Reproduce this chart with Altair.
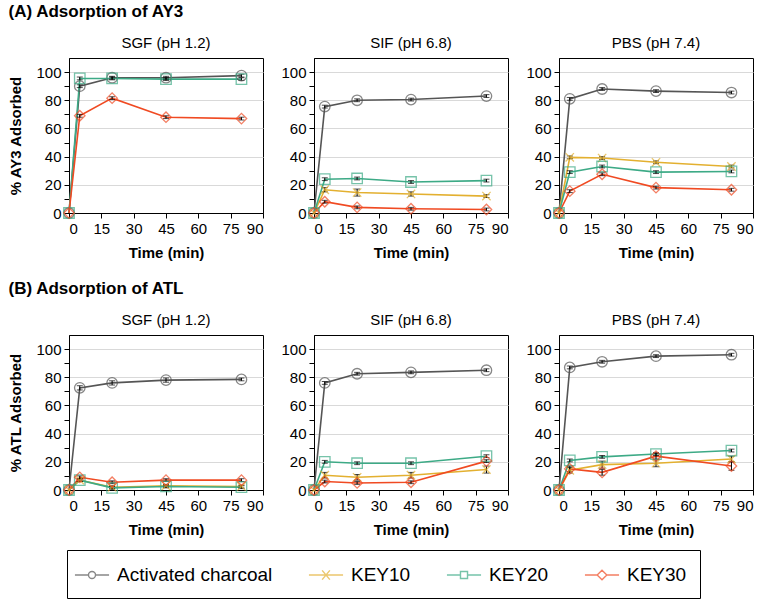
import altair as alt
import pandas as pd

times = [0, 5, 20, 45, 80]
series = ["Activated charcoal", "KEY10", "KEY20", "KEY30"]
colors = ["#555555", "#E3B030", "#3DAA86", "#F04A22"]
media = ["SGF (pH 1.2)", "SIF (pH 6.8)", "PBS (pH 7.4)"]

# (A) AY3 adsorption (%)
ay3_sgf_charcoal = [0, 90, 96, 96, 97.5]
ay3_sgf_key10 = [0, 95, 95.5, 95, 95]
ay3_sgf_key20 = [0, 95.5, 95.5, 95, 95]
ay3_sgf_key30 = [0, 69, 81.5, 68, 67]

ay3_sif_charcoal = [0, 75.5, 80, 80.5, 83]
ay3_sif_key10 = [0, 16.5, 14.5, 13.5, 12]
ay3_sif_key20 = [0, 24, 24.5, 22, 23]
ay3_sif_key30 = [0, 8, 4, 3, 2.5]

ay3_pbs_charcoal = [0, 81, 88, 86.5, 85.5]
ay3_pbs_key10 = [0, 39.5, 39, 36, 33]
ay3_pbs_key20 = [0, 29, 33, 29, 29.5]
ay3_pbs_key30 = [0, 15.5, 27.5, 18, 16.5]

# (B) ATL adsorption (%)
atl_sgf_charcoal = [0, 72.5, 76, 78, 78.5]
atl_sgf_key10 = [0, 7, 2, 3, 2.5]
atl_sgf_key20 = [0, 7, 1.5, 2.5, 2]
atl_sgf_key30 = [0, 9, 5.5, 7, 7]

atl_sif_charcoal = [0, 76, 82.5, 83.5, 85]
atl_sif_key10 = [0, 10.5, 9, 10.5, 14.5]
atl_sif_key20 = [0, 20, 19, 19, 24]
atl_sif_key30 = [0, 6, 5, 5.5, 20.5]

atl_pbs_charcoal = [0, 87, 91, 95, 96]
atl_pbs_key10 = [0, 14, 18, 19, 22]
atl_pbs_key20 = [0, 21, 23.5, 25.5, 28]
atl_pbs_key30 = [0, 15, 12.5, 24, 17]

# error bars (± %)
err_small = [0, 1, 1, 1, 1]
ay3_sif_key10_err = [0, 1.5, 2.5, 1.5, 1]
atl_sgf_charcoal_err = [0, 1.5, 1.5, 1.5, 1]
atl_sif_key10_err = [0, 2, 2, 2, 2.5]
atl_pbs_key10_err = [0, 2, 2.5, 2.5, 2]
atl_pbs_key30_err = [0, 2, 2, 2, 3]

panels = {
    ("AY3", media[0]): [ay3_sgf_charcoal, ay3_sgf_key10, ay3_sgf_key20, ay3_sgf_key30],
    ("AY3", media[1]): [ay3_sif_charcoal, ay3_sif_key10, ay3_sif_key20, ay3_sif_key30],
    ("AY3", media[2]): [ay3_pbs_charcoal, ay3_pbs_key10, ay3_pbs_key20, ay3_pbs_key30],
    ("ATL", media[0]): [atl_sgf_charcoal, atl_sgf_key10, atl_sgf_key20, atl_sgf_key30],
    ("ATL", media[1]): [atl_sif_charcoal, atl_sif_key10, atl_sif_key20, atl_sif_key30],
    ("ATL", media[2]): [atl_pbs_charcoal, atl_pbs_key10, atl_pbs_key20, atl_pbs_key30],
}
errors = {
    ("AY3", media[1], "KEY10"): ay3_sif_key10_err,
    ("ATL", media[0], "Activated charcoal"): atl_sgf_charcoal_err,
    ("ATL", media[1], "KEY10"): atl_sif_key10_err,
    ("ATL", media[2], "KEY10"): atl_pbs_key10_err,
    ("ATL", media[2], "KEY30"): atl_pbs_key30_err,
}

rows = []
for (analyte, medium), vals in panels.items():
    for s, v in zip(series, vals):
        if analyte == "AY3" and medium == media[0] and s == "KEY10":
            continue
        e = errors.get((analyte, medium, s), err_small)
        for t, y, er in zip(times, v, e):
            rows.append(dict(analyte=analyte, medium=medium, series=s, time=t,
                             value=y, lo=y - er, hi=y + er, err=er))
df = pd.DataFrame(rows)

FONT = "Liberation Sans"
marker_shapes = {
    "Activated charcoal": "circle",
    "KEY10": "M-1,-1L1,1M-1,1L1,-1",
    "KEY20": "square",
    "KEY30": "diamond",
}
legend_shapes = [
    "M-1.55,0H-0.32M0.32,0H1.55M0.32,0A0.32,0.32,0,1,1,-0.32,0A0.32,0.32,0,1,1,0.32,0Z",
    "M-1.55,0H1.55M-0.35,-0.42L0.35,0.42M-0.35,0.42L0.35,-0.42",
    "M-1.55,0H-0.32M0.32,0H1.55M-0.32,-0.32H0.32V0.32H-0.32Z",
    "M-1.55,0H-0.44M0.44,0H1.55M0,-0.44L0.44,0L0,0.44L-0.44,0Z",
]
color_scale = alt.Scale(domain=series, range=colors)
shape_scale = alt.Scale(domain=series, range=legend_shapes)

legend_props = dict(
    orient="none", legendX=-2, legendY=492,
    direction="horizontal", columns=4,
    strokeColor="black", padding=13,
    symbolSize=484, symbolStrokeWidth=1.4,
    labelFontSize=19, labelFont=FONT,
    labelColor="black", columnPadding=33,
    labelOffset=13, title=None,
)


def panel(analyte, medium, first):
    d = df[(df.analyte == analyte) & (df.medium == medium)]
    base = alt.Chart(d)
    xaxis = alt.Axis(values=[0, 15, 30, 45, 60, 75, 90], title="Time (min)",
                     grid=False, tickSize=5, labelPadding=3, titlePadding=9,
                     labelOverlap=False)
    yaxis = alt.Axis(
        values=list(range(0, 101, 10)),
        labelExpr="datum.value % 20 === 0 ? datum.label : ''",
        gridColor={"condition": {"test": "datum.value % 20 === 0 && datum.value > 0",
                                 "value": "#d9d9d9"}, "value": "transparent"},
        tickSize=5, labelPadding=3, titlePadding=12, labelOverlap=False,
        title=(f"% {analyte} Adsorbed" if first else None),
    )
    xs = alt.Scale(domain=[0, 90], nice=False)
    ys = alt.Scale(domain=[0, 110], nice=False)
    x = alt.X("time:Q", scale=xs, axis=xaxis)
    y = alt.Y("value:Q", scale=ys, axis=yaxis)
    color = alt.Color("series:N", scale=color_scale, legend=alt.Legend(**legend_props))
    line = base.mark_line(strokeWidth=1.6).encode(x=x, y=y, color=color,
                                                  order="time:Q")
    eb = base.transform_filter("datum.err > 0").mark_errorbar(
        ticks=True, color="black", thickness=1).encode(
        x=x, y=alt.Y("lo:Q", scale=ys, axis=yaxis), y2="hi:Q")
    layers = [line, eb]
    for s in series:
        layers.append(
            base.transform_filter(alt.datum.series == s).mark_point(
                shape=marker_shapes[s], filled=False, strokeWidth=1.3,
                size=110 if s != "KEY10" else 70).encode(x=x, y=y, color=color)
        )
    if first and analyte == "AY3":
        leg = base.transform_filter("false").mark_point(filled=False).encode(
            x=x, y=y, color=color,
            shape=alt.Shape("series:N", scale=shape_scale,
                            legend=alt.Legend(**legend_props)),
        )
        layers.append(leg)
    return alt.layer(*layers).properties(
        width=194, height=155,
        title=alt.TitleParams(medium, fontSize=15, fontWeight="normal", font=FONT,
                              offset=7, color="black"))


rowA = alt.hconcat(*[panel("AY3", m, i == 0) for i, m in enumerate(media)], spacing=16).properties(
    title=alt.TitleParams("(A) Adsorption of AY3", anchor="start", fontSize=17,
                          fontWeight="bold", font=FONT, offset=15, color="black"))
rowB = alt.hconcat(*[panel("ATL", m, i == 0) for i, m in enumerate(media)], spacing=16).properties(
    title=alt.TitleParams("(B) Adsorption of ATL", anchor="start", fontSize=17,
                          fontWeight="bold", font=FONT, offset=15, color="black"))

chart = alt.vconcat(rowA, rowB, spacing=18).properties(
    padding={"left": 8, "top": 2, "right": 4, "bottom": 4},
    background="white",
).configure_view(stroke="black", strokeWidth=1).configure_axis(
    domainColor="black", tickColor="black", labelColor="black", titleColor="black",
    labelFont=FONT, titleFont=FONT, labelFontSize=15, titleFontSize=15,
    titleFontWeight="bold",
).configure_errorbar(ticks={"size": 6})

chart.save("out.html", embed_options={"renderer": "svg", "actions": False})
